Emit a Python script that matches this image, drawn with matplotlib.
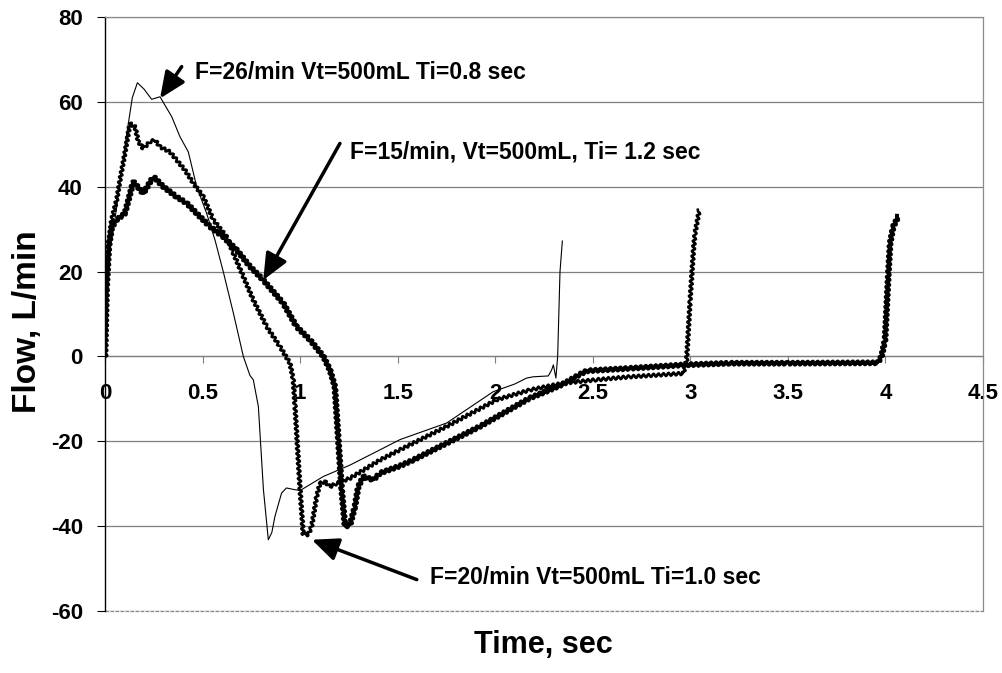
import matplotlib
matplotlib.use("Agg")
import matplotlib.pyplot as plt

plt.rcParams['font.family'] = ['Liberation Sans', 'DejaVu Sans']
plt.rcParams['axes.unicode_minus'] = False

# ---- data ----
t_f26 = [0, 0.01, 0.025, 0.05, 0.08, 0.11, 0.14, 0.166, 0.20, 0.239, 0.282, 0.31, 0.342,
         0.384, 0.427, 0.47, 0.521, 0.564, 0.606, 0.658, 0.709, 0.743, 0.76, 0.786, 0.812,
         0.837, 0.855, 0.871, 0.905, 0.93, 0.972, 1.0, 1.119, 1.256, 1.41, 1.512, 1.751,
         1.99, 2.1, 2.161, 2.195, 2.272, 2.289, 2.298, 2.311, 2.32, 2.332, 2.344]
y_f26 = [0, 15, 25, 32, 42, 52, 61, 64.5, 63, 60.6, 61.2, 59, 56.5,
         51.8, 48.2, 40, 33.7, 27.4, 20, 10.2, 0, -4.5, -5.5, -11.8, -31.4,
         -43.2, -41.5, -37.7, -32.2, -31, -31.4, -31.6, -28.3, -25.6, -22, -19.6, -15.7,
         -8.3, -6.5, -5.1, -4.8, -4.6, -3.2, -2, -5.1, 0, 20, 27.2]

t_f20 = [0, 0.008, 0.02, 0.034, 0.06, 0.077, 0.102, 0.128, 0.154, 0.171, 0.196, 0.231,
         0.256, 0.282, 0.333, 0.367, 0.41, 0.453, 0.504, 0.555, 0.623, 0.658, 0.709, 0.76,
         0.829, 0.897, 0.948, 0.965, 0.974, 1.0, 1.016, 1.042, 1.059, 1.085, 1.102, 1.127,
         1.153, 1.188, 1.256, 1.41, 1.512, 1.751, 2.008, 2.178, 2.349, 2.52, 2.69, 2.964,
         2.981, 2.999, 3.016, 3.024, 3.046]
y_f20 = [0, 18, 27, 32.2, 36.9, 41.6, 47.9, 54.9, 54.1, 50.6, 49, 50.6,
         51, 49.4, 48.2, 46.3, 43.9, 40.8, 37.6, 32.2, 28.2, 24.3, 18.8, 13.3,
         7, 2.3, -1.6, -5.5, -11.8, -31.4, -42, -42, -40.1, -33, -29.9, -29.5,
         -30.7, -29.9, -28.7, -24.4, -22, -16.5, -10.2, -7.9, -6.3, -5.5, -4.8, -4.0,
         -0.8, 13.3, 25.1, 29, 34.5]

t_f15 = [0, 0.008, 0.02, 0.035, 0.06, 0.102, 0.145, 0.196, 0.248, 0.299, 0.367, 0.419,
         0.47, 0.538, 0.606, 0.675, 0.743, 0.811, 0.914, 0.982, 1.051, 1.119, 1.153,
         1.178, 1.196, 1.213, 1.23, 1.256, 1.281, 1.298, 1.324, 1.375, 1.41, 1.512, 1.58,
         1.922, 2.178, 2.264, 2.349, 2.435, 2.469, 2.691, 2.964, 3.203, 3.5, 3.96, 3.98,
         3.998, 4.015, 4.024, 4.04, 4.066]
y_f15 = [0, 16, 26, 30.5, 32.2, 33.7, 41.2, 38.4, 42.4, 40, 37.6, 36.1,
         33.7, 30.6, 28.2, 25.1, 21.2, 18, 12.5, 7, 3.9, 0, -3.2,
         -7.1, -19.7, -31.4, -40.1, -39.7, -35.4, -30.7, -28.3, -29.1, -27.5, -25.8, -24.4,
         -16.5, -9.8, -8.2, -6.5, -4.2, -3.4, -2.8, -2, -1.6, -1.6, -1.5, 0,
         3.9, 19.6, 26.7, 30.6, 33]

x_ticks = [0, 0.5, 1, 1.5, 2, 2.5, 3, 3.5, 4, 4.5]
x_tick_labels = ['0', '0.5', '1', '1.5', '2', '2.5', '3', '3.5', '4', '4.5']
y_ticks = [-60, -40, -20, 0, 20, 40, 60, 80]

label_f26 = "F=26/min Vt=500mL Ti=0.8 sec"
label_f15 = "F=15/min, Vt=500mL, Ti= 1.2 sec"
label_f20 = "F=20/min Vt=500mL Ti=1.0 sec"

# ---- figure ----
W, H = 1003, 673
fig = plt.figure(figsize=(W / 100, H / 100), dpi=100)
ax = fig.add_axes([105 / W, 1 - 611 / H, (983 - 105) / W, (611 - 17) / H])
ax.set_xlim(0, 4.5)
ax.set_ylim(-60, 80)

for yv in y_ticks:
    ax.axhline(yv, color='#7f7f7f', lw=0.9, zorder=1)

l1, = ax.plot(t_f26, y_f26, color='black', lw=0.8, zorder=3)
l2, = ax.plot(t_f20, y_f20, color='black', lw=1.9, zorder=3)
l3, = ax.plot(t_f15, y_f15, color='black', lw=2.8, zorder=3)
l2.set_sketch_params(scale=1.6, length=5, randomness=1)
l3.set_sketch_params(scale=1.6, length=5, randomness=1)

# spines
ax.spines['bottom'].set_position(('data', 0))
ax.spines['bottom'].set_color('#7f7f7f')
ax.spines['bottom'].set_linewidth(0.9)
for s in ['top', 'right']:
    ax.spines[s].set_color('#8a8a8a')
    ax.spines[s].set_linestyle((0, (3, 1)))
    ax.spines[s].set_linewidth(0.9)
ax.spines['left'].set_color('black')
ax.spines['left'].set_linewidth(1.0)
ax.plot([0, 1], [0, 0], transform=ax.transAxes, color='#8a8a8a', lw=0.9,
        ls=(0, (3, 1)), clip_on=False, zorder=2)

ax.set_xticks(x_ticks)
ax.set_xticklabels(x_tick_labels)
ax.set_yticks(y_ticks)
ax.tick_params(axis='x', direction='out', length=5, color='#7f7f7f', pad=14,
               labelsize=16)
ax.tick_params(axis='y', direction='out', length=6, color='black', pad=10,
               labelsize=16)
for lab in ax.get_xticklabels() + ax.get_yticklabels():
    lab.set_fontweight('bold')

fig.text(543 / W, 1 - 645 / H, 'Time, sec', ha='center', va='center',
         fontsize=22, fontweight='bold')
fig.text(28 / W, 1 - 322 / H, 'Flow, L/min', ha='center', va='center',
         rotation=90, fontsize=24, fontweight='bold')

arrow = dict(arrowstyle='-|>,head_length=0.8,head_width=0.35', color='black',
             lw=2.5, shrinkA=0, shrinkB=0, mutation_scale=20)
ax.annotate('', xy=(0.282, 60.8), xytext=(0.393, 68.3), arrowprops=arrow)
ax.annotate('', xy=(0.811, 18.0), xytext=(1.204, 50.2), arrowprops=arrow)
ax.annotate('', xy=(1.06, -43.2), xytext=(1.598, -52.6), arrowprops=arrow)

ax.text(0.461, 67.0, label_f26, fontsize=16.5, fontweight='bold', va='center', ha='left')
ax.text(1.256, 48.2, label_f15, fontsize=16.5, fontweight='bold', va='center', ha='left')
ax.text(1.666, -52.2, label_f20, fontsize=16.5, fontweight='bold', va='center', ha='left')

fig.savefig('out.png', dpi=100)
